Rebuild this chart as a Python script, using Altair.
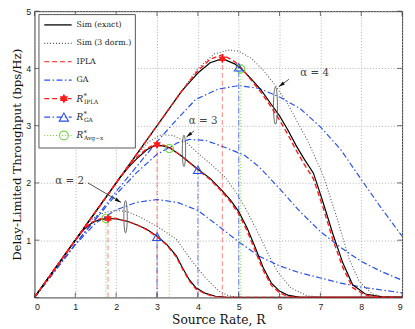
import math
import altair as alt
import pandas as pd

W, H = 375, 292

# ---------------- data ----------------
# alpha = 2
a2_exact_R = [0, 1.0, 1.2, 1.4, 1.6, 1.8, 2.0, 2.27, 2.5, 2.75, 3.0, 3.23, 3.47, 3.63, 3.79, 3.95, 4.19, 4.43, 4.7, 9]
a2_exact_y = [0, 1.0, 1.18, 1.3, 1.36, 1.38, 1.37, 1.33, 1.27, 1.19, 1.07, 0.93, 0.73, 0.51, 0.31, 0.17, 0.07, 0.02, 0, 0]
a2_ipla_y = [0, 1.0, 1.19, 1.31, 1.37, 1.39, 1.38, 1.33, 1.27, 1.18, 1.06, 0.92, 0.71, 0.49, 0.29, 0.15, 0.06, 0.01, 0, 0]
a2_dorm_R = [0, 1.3, 1.5, 1.7, 2.0, 2.27, 2.6, 3.0, 3.47, 3.87, 4.19, 4.51, 4.75, 5.0, 9]
a2_dorm_y = [0, 1.3, 1.42, 1.48, 1.52, 1.5, 1.4, 1.24, 1.02, 0.62, 0.34, 0.11, 0.03, 0, 0]
a2_ga_R = [0, 1, 1.5, 2, 2.5, 3, 3.5, 4, 4.5, 5, 5.5, 6, 6.5, 7, 7.5, 8, 8.5, 9]
a2_ga_y = [0, 0.92, 1.3, 1.53, 1.66, 1.71, 1.66, 1.52, 1.25, 0.97, 0.72, 0.55, 0.43, 0.34, 0.25, 0.18, 0.13, 0.08]

# alpha = 3
a3_exact_R = [0, 2.1, 2.3, 2.5, 2.75, 3.0, 3.3, 3.6, 4.0, 4.3, 4.6, 4.8, 5.0, 5.2, 5.4, 5.6, 5.8, 6.0, 6.2, 6.5, 9]
a3_exact_y = [0, 2.1, 2.27, 2.42, 2.58, 2.67, 2.62, 2.47, 2.24, 2.08, 1.86, 1.7, 1.5, 1.22, 0.88, 0.52, 0.25, 0.11, 0.04, 0, 0]
a3_ipla_y = [0, 2.1, 2.28, 2.44, 2.6, 2.69, 2.63, 2.47, 2.23, 2.06, 1.84, 1.67, 1.46, 1.17, 0.82, 0.47, 0.21, 0.08, 0.02, 0, 0]
a3_dorm_R = [0, 2.2, 2.5, 2.8, 3.1, 3.4, 3.7, 4.0, 4.3, 4.67, 4.9, 5.15, 5.35, 5.55, 5.75, 5.95, 6.27, 6.67, 7.0, 9]
a3_dorm_y = [0, 2.2, 2.48, 2.72, 2.84, 2.83, 2.72, 2.52, 2.34, 2.1, 1.87, 1.58, 1.3, 1.02, 0.72, 0.45, 0.17, 0.03, 0, 0]
a3_ga_R = [0, 1, 2, 2.5, 3, 3.5, 3.8, 4.2, 4.67, 5.15, 5.5, 6, 6.5, 7, 7.5, 8, 8.5, 9]
a3_ga_y = [0, 0.93, 1.8, 2.18, 2.5, 2.7, 2.76, 2.74, 2.62, 2.48, 2.28, 1.9, 1.5, 1.15, 0.87, 0.63, 0.45, 0.3]

# alpha = 4
a4_exact_R = [0, 3.6, 3.8, 4.0, 4.3, 4.6, 4.9, 5.1, 5.3, 5.55, 5.8, 6.0, 6.2, 6.4, 6.6, 6.83, 7.07, 7.31, 7.55, 7.79, 8.1, 8.5, 9]
a4_exact_y = [0, 3.6, 3.76, 3.92, 4.1, 4.17, 4.08, 3.97, 3.82, 3.62, 3.37, 3.17, 2.93, 2.66, 2.42, 2.17, 1.65, 1.1, 0.6, 0.22, 0.06, 0.01, 0]
a4_ipla_y = [0, 3.6, 3.78, 3.96, 4.16, 4.24, 4.12, 3.98, 3.8, 3.58, 3.32, 3.1, 2.85, 2.58, 2.33, 2.07, 1.56, 1.0, 0.52, 0.17, 0.04, 0.005, 0]
a4_dorm_R = [0, 4.0, 4.4, 4.75, 5.0, 5.3, 5.6, 5.9, 6.2, 6.5, 6.7, 7.07, 7.4, 7.7, 7.95, 8.27, 8.6, 9]
a4_dorm_y = [0, 4.0, 4.25, 4.32, 4.3, 4.18, 3.97, 3.7, 3.38, 2.98, 2.72, 2.13, 1.4, 0.68, 0.28, 0.06, 0, 0]
a4_ga_R = [0, 1, 2, 3, 3.5, 3.95, 4.5, 5, 5.5, 6, 6.5, 7, 7.5, 8, 8.5, 9]
a4_ga_y = [0, 0.93, 1.85, 2.72, 3.12, 3.46, 3.64, 3.7, 3.65, 3.5, 3.3, 2.98, 2.58, 2.06, 1.55, 1.07]

# optimum markers
ipla_opt_R = [1.8, 3.0, 4.6]
ipla_opt_y = [1.38, 2.67, 4.17]
ga_opt_R = [3.0, 4.0, 5.0]
ga_opt_y = [1.06, 2.23, 4.02]
avg_opt_R = [1.75, 3.3, 5.05]
avg_opt_y = [1.38, 2.6, 3.99]

# annotations
alpha_labels = ["α = 2", "α = 3", "α = 4"]
alpha_text_R = [0.86, 4.13, 6.86]
alpha_text_y = [2.03, 3.08, 3.92]
arrow_R1 = [1.31, 3.91, 6.23]
arrow_y1 = [2.0, 2.91, 3.81]
arrow_R2 = [2.12, 3.72, 5.98]
arrow_y2 = [1.66, 2.8, 3.68]
ellipse_R = [2.23, 3.66, 5.9]
ellipse_y = [1.41, 2.56, 3.35]
ellipse_h = [33, 32, 38]

x_ticks = list(range(10))
y_ticks = list(range(6))

legend_labels = ["Sim (exact)", "Sim (3 dorm.)", "IPLA", "GA"]
legend_sub = ["IPLA", "GA", "Avg−x"]

# ---------------- styling ----------------
RED = "#ff1a1a"
BLUE = "#2b50f0"
GREEN = "#72d63c"
SERIF = "DejaVu Serif"
SANS = "Liberation Sans"
DOT = [1, 2]
DASH = [5, 3]
DASHDOT = [6, 2.5, 1.5, 2.5]

xs = alt.Scale(domain=[0, 9], nice=False, zero=False)
ys = alt.Scale(domain=[0, 5], nice=False, zero=False)

axis_x = alt.Axis(values=x_ticks, grid=True, gridDash=[1, 2], gridColor="#b0b0b0", ticks=False,
                  domain=False, labelFont=SANS, labelFontSize=9, labelColor="#222", labelPadding=5,
                  title="Source Rate, R", titleFont=SERIF, titleFontSize=12.5, titleFontWeight="normal",
                  titleColor="#111", titlePadding=3)
axis_y = alt.Axis(values=y_ticks, grid=True, gridDash=[1, 2], gridColor="#b0b0b0", ticks=False,
                  domain=False, labelFont=SANS, labelFontSize=9, labelColor="#222", labelPadding=4,
                  labelExpr="datum.value == 0 ? '' : datum.label",
                  title="Delay-Limited Throughput (bps/Hz)", titleFont=SERIF, titleFontSize=12,
                  titleFontWeight="normal", titleColor="#111", titlePadding=2)


def X(f="R:Q"):
    return alt.X(f, scale=xs, axis=axis_x)


def Y(f="y:Q"):
    return alt.Y(f, scale=ys, axis=axis_y)


def xy():
    return dict(x=X(), y=Y())


def curve(R, Yv, color, dash=None, width=1.2, opacity=1.0):
    kw = dict(color=color, strokeWidth=width, opacity=opacity, clip=True)
    if dash:
        kw["strokeDash"] = dash
    return alt.Chart(pd.DataFrame({"R": R, "y": Yv})).mark_line(**kw).encode(**xy())


layers = []

# GA curves
for R, Yv in [(a2_ga_R, a2_ga_y), (a3_ga_R, a3_ga_y), (a4_ga_R, a4_ga_y)]:
    layers.append(curve(R, Yv, BLUE, DASHDOT, 1.2))


def drops(R, Yv, color, dash, op):
    df = pd.DataFrame({"R": R, "y": Yv, "y0": [0] * len(R)})
    return alt.Chart(df).mark_rule(color=color, strokeDash=dash, strokeWidth=1.2, opacity=op).encode(
        x=X(), y=Y("y0:Q"), y2="y:Q")


layers.append(drops(ipla_opt_R, ipla_opt_y, RED, DASH, 0.45))
layers.append(drops(ga_opt_R, ga_opt_y, BLUE, DASHDOT, 0.6))
layers.append(drops(avg_opt_R, avg_opt_y, GREEN, DOT, 0.8))

for R, Yv in [(a2_dorm_R, a2_dorm_y), (a3_dorm_R, a3_dorm_y), (a4_dorm_R, a4_dorm_y)]:
    layers.append(curve(R, Yv, "#555", DOT, 1.1))
for R, Yv in [(a2_exact_R, a2_exact_y), (a3_exact_R, a3_exact_y), (a4_exact_R, a4_exact_y)]:
    layers.append(curve(R, Yv, "#000", None, 1.2))
for R, Yv in [(a2_exact_R, a2_ipla_y), (a3_exact_R, a3_ipla_y), (a4_exact_R, a4_ipla_y)]:
    layers.append(curve(R, Yv, RED, DASH, 1.4))

HEX = ("M0,-1L0.289,-0.5L0.866,-0.5L0.577,0L0.866,0.5L0.289,0.5L0,1L-0.289,0.5"
       "L-0.866,0.5L-0.577,0L-0.866,-0.5L-0.289,-0.5Z")


def markers(R, Yv, shape, color, filled, size):
    return alt.Chart(pd.DataFrame({"R": R, "y": Yv})).mark_point(
        shape=shape, color=color, filled=filled, size=size, strokeWidth=1.1, opacity=1).encode(**xy())


layers.append(markers(avg_opt_R, avg_opt_y, "circle", GREEN, False, 70))
layers.append(markers(ga_opt_R, ga_opt_y, "triangle-up", BLUE, False, 80))
layers.append(markers(ipla_opt_R, ipla_opt_y, HEX, RED, True, 85))

# ellipses
ell_path = "M" + "L".join(
    f"{0.105 * math.sin(2 * math.pi * k / 36):.4f},{-math.cos(2 * math.pi * k / 36):.4f}" for k in range(36)) + "Z"
ell_df = pd.DataFrame({"R": ellipse_R, "y": ellipse_y, "s": [h * h for h in ellipse_h]})
layers.append(alt.Chart(ell_df).mark_point(shape=ell_path, color="#555", filled=False, strokeWidth=0.9,
                                           opacity=1).encode(**xy(), size=alt.Size("s:Q", scale=None)))

# arrows
px_x, px_y = W / 9, H / 5
angles = [(math.degrees(math.atan2((b - a) * px_x, (d - c) * px_y)) + 360) % 360
          for a, b, c, d in zip(arrow_R1, arrow_R2, arrow_y1, arrow_y2)]
arr_df = pd.DataFrame({"R": arrow_R1, "y": arrow_y1, "R2": arrow_R2, "y2": arrow_y2})
layers.append(alt.Chart(arr_df).mark_rule(color="#222", strokeWidth=0.8).encode(
    **xy(), x2="R2:Q", y2="y2:Q"))
head_df = pd.DataFrame({"R": arrow_R2, "y": arrow_y2, "ang": angles})
layers.append(alt.Chart(head_df).mark_point(shape="M0,0L-0.45,1.6L0.45,1.6Z", color="#111", filled=True,
                                            size=64, opacity=1).encode(
    **xy(), angle=alt.Angle("ang:Q", scale=None)))

lab_df = pd.DataFrame({"R": alpha_text_R, "y": alpha_text_y, "t": alpha_labels})
layers.append(alt.Chart(lab_df).mark_text(font=SERIF, fontSize=10.5, color="#444", align="center",
                                          baseline="middle").encode(**xy(), text="t:N"))

# inward tick marks on the frame
tx = pd.DataFrame({"R": x_ticks})
ty = pd.DataFrame({"y": y_ticks})
tk = dict(color="#333", thickness=1, size=5)
layers.append(alt.Chart(tx).mark_tick(yOffset=-2.5, **tk).encode(x=X(), y=alt.value(H)))
layers.append(alt.Chart(tx).mark_tick(yOffset=2.5, **tk).encode(x=X(), y=alt.value(0)))
layers.append(alt.Chart(ty).mark_tick(xOffset=2.5, **tk).encode(y=Y(), x=alt.value(0)))
layers.append(alt.Chart(ty).mark_tick(xOffset=-2.5, **tk).encode(y=Y(), x=alt.value(W)))

# ---------------- legend ----------------
leg_top, leg_step = 4.76, 0.322
rows_y = [leg_top - i * leg_step for i in range(7)]
box = pd.DataFrame({"R": [0.11], "R2": [2.47], "y": [4.94], "y2": [2.61]})
layers.append(alt.Chart(box).mark_rect(fill="white", stroke="#555", strokeWidth=1).encode(
    **xy(), x2="R2:Q", y2="y2:Q"))

row_styles = [("#000", None), ("#555", DOT), (RED, DASH), (BLUE, DASHDOT), (RED, DASH), (BLUE, DASHDOT),
              (GREEN, DOT)]
for yv, (col, dash) in zip(rows_y, row_styles):
    kw = dict(color=col, strokeWidth=1.3 if col == "#000" else 1.2)
    if dash:
        kw["strokeDash"] = dash
    d = pd.DataFrame({"R": [0.24], "R2": [0.91], "y": [yv]})
    layers.append(alt.Chart(d).mark_rule(**kw).encode(**xy(), x2="R2:Q"))

layers.append(markers([0.72], [rows_y[4]], HEX, RED, True, 95))
layers.append(markers([0.72], [rows_y[5]], "triangle-up", BLUE, False, 90))
layers.append(markers([0.72], [rows_y[6]], "circle", GREEN, False, 80))

txt_df = pd.DataFrame({"R": [1.03] * 4, "y": rows_y[:4], "t": legend_labels})
layers.append(alt.Chart(txt_df).mark_text(font=SERIF, fontSize=8, color="#222", align="left",
                                          baseline="middle").encode(**xy(), text="t:N"))
r_df = pd.DataFrame({"R": [1.03] * 3, "y": rows_y[4:], "t": ["R"] * 3})
layers.append(alt.Chart(r_df).mark_text(font=SERIF, fontSize=9, fontStyle="italic", color="#222",
                                        align="left", baseline="middle").encode(**xy(), text="t:N"))
star_df = pd.DataFrame({"R": [1.03] * 3, "y": rows_y[4:], "t": ["*"] * 3})
layers.append(alt.Chart(star_df).mark_text(font=SERIF, fontSize=7, color="#222", align="left",
                                           baseline="middle", dx=7, dy=-3).encode(**xy(), text="t:N"))
sub_df = pd.DataFrame({"R": [1.03] * 3, "y": rows_y[4:], "t": legend_sub})
layers.append(alt.Chart(sub_df).mark_text(font=SERIF, fontSize=6, color="#222", align="left",
                                          baseline="middle", dx=7.5, dy=3).encode(**xy(), text="t:N"))

chart = alt.layer(*layers).properties(
    width=W, height=H, autosize=alt.AutoSizeParams(type="none"),
    padding={"left": 27, "top": 0, "right": 5, "bottom": 30},
).configure_view(stroke="#333", strokeWidth=1)

chart.save("out.html", embed_options={"renderer": "svg", "actions": False})
